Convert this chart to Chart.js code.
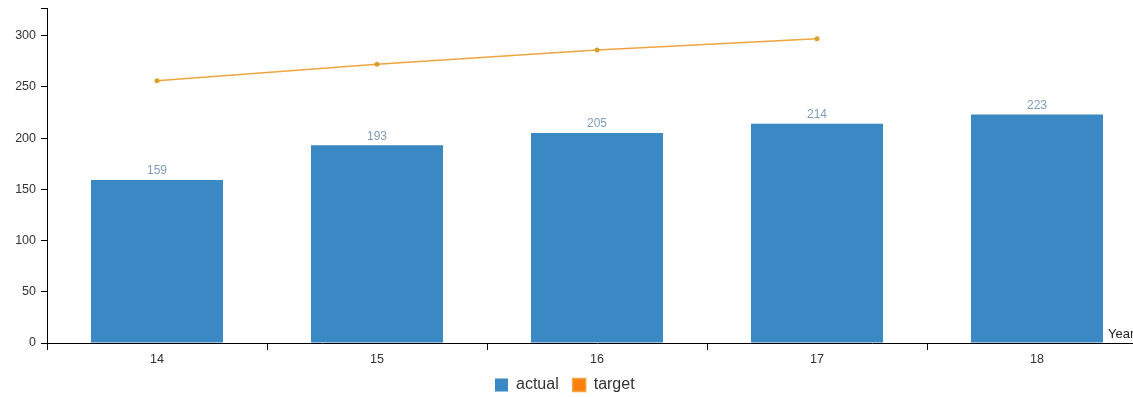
<!DOCTYPE html>
<html>
<head>
<meta charset="utf-8">
<script src="https://cdn.jsdelivr.net/npm/chart.js@4/dist/chart.umd.min.js"></script>
<style>
html, body { margin: 0; padding: 0; background: #fff; overflow: hidden; }
#wrap { width: 1160px; height: 397px; }
</style>
</head>
<body>
<div id="wrap"><canvas id="yearChart" width="1160" height="397"></canvas></div>
<script>
// datos del grafico
const years = ['14', '15', '16', '17', '18'];
const actual = [159, 193, 205, 214, 223];
const target = [256, 272, 286, 297, null];
const yTicks = [0, 50, 100, 150, 200, 250, 300];
const yMax = 327;

const FONT = 'Liberation Sans, Arial, sans-serif';

// etiquetas sobre las barras + titulo "Year" + ajuste de la leyenda
const extras = {
    id: 'extras',
    beforeLayout(chart) {
        const lg = chart.legend;
        if (lg && !lg._fixedFit) {
            const origFit = lg.fit;
            lg.fit = function () {
                origFit.call(this);
                this.height = 30;
            };
            lg._fixedFit = true;
        }
    },
    afterLayout(chart) {
        const lg = chart.legend;
        const pad = lg.options.labels.padding;
        const start = (lg.left + pad + lg.right - lg.lineWidths[0]) / 2;
        const dx = 495 - start;
        lg.left += dx;
        lg.right += dx;
        lg.top = 363;
        lg.bottom = 397;
    },
    afterDatasetsDraw(chart) {
        const ctx = chart.ctx;
        const meta = chart.getDatasetMeta(0);
        ctx.save();
        ctx.font = '12px ' + FONT;
        ctx.fillStyle = '#7f9cb8';
        ctx.textAlign = 'center';
        ctx.textBaseline = 'bottom';
        meta.data.forEach((bar, i) => {
            ctx.fillText(String(actual[i]), bar.x, bar.y - 3);
        });
        ctx.restore();
    },
    afterDraw(chart) {
        const ctx = chart.ctx;
        const area = chart.chartArea;
        ctx.save();
        // tick exterior arriba del eje y
        ctx.strokeStyle = '#000';
        ctx.lineWidth = 1;
        ctx.beginPath();
        ctx.moveTo(area.left - 6, area.top + 0.5);
        ctx.lineTo(area.left, area.top + 0.5);
        ctx.stroke();
        ctx.font = '13px ' + FONT;
        ctx.fillStyle = '#222';
        ctx.textAlign = 'left';
        ctx.textBaseline = 'alphabetic';
        ctx.fillText('Year', area.right - 39, area.bottom - 5);
        ctx.restore();
    }
};

const ctx = document.getElementById('yearChart').getContext('2d');
const yearChart = new Chart(ctx, {
    type: 'bar',
    data: {
        labels: years,
        datasets: [{
            label: 'actual',
            data: actual,
            backgroundColor: '#3a88c4',
            borderWidth: 0,
            categoryPercentage: 1,
            barPercentage: 0.6
        }, {
            type: 'line',
            label: 'target',
            data: target,
            borderColor: '#efa540',
            backgroundColor: '#ff7f0e',
            borderWidth: 1.5,
            pointRadius: 2.5,
            pointBackgroundColor: '#d9a02a',
            pointBorderWidth: 0,
            tension: 0,
            fill: false
        }]
    },
    options: {
        responsive: false,
        animation: false,
        layout: {
            padding: { top: 8, right: 13, left: 0, bottom: 0 }
        },
        plugins: {
            tooltip: { enabled: false },
            legend: {
                position: 'bottom',
                labels: {
                    font: { family: FONT, size: 16 },
                    color: '#333',
                    boxWidth: 13,
                    boxHeight: 13,
                    padding: 14
                }
            }
        },
        scales: {
            x: {
                offset: true,
                grid: {
                    offset: true,
                    drawOnChartArea: false,
                    drawTicks: true,
                    tickLength: 7,
                    color: '#000'
                },
                border: { color: '#000', width: 1 },
                ticks: {
                    color: '#333',
                    font: { family: FONT, size: 12.5 },
                    padding: 2,
                    maxRotation: 0
                },
                afterFit(scale) {
                    scale.height = 24;
                    scale.paddingLeft = 0;
                    scale.paddingRight = 0;
                }
            },
            y: {
                min: 0,
                max: yMax,
                afterBuildTicks(scale) {
                    scale.ticks = yTicks.map(v => ({ value: v }));
                },
                grid: {
                    drawOnChartArea: false,
                    tickLength: 6,
                    color: '#000'
                },
                border: { color: '#000', width: 1 },
                ticks: {
                    color: '#333',
                    font: { family: FONT, size: 12.5 },
                    padding: 5
                },
                afterFit(scale) {
                    scale.width = 47;
                    scale.paddingTop = 0;
                    scale.paddingBottom = 0;
                }
            }
        }
    },
    plugins: [extras]
});
</script>
</body>
</html>
